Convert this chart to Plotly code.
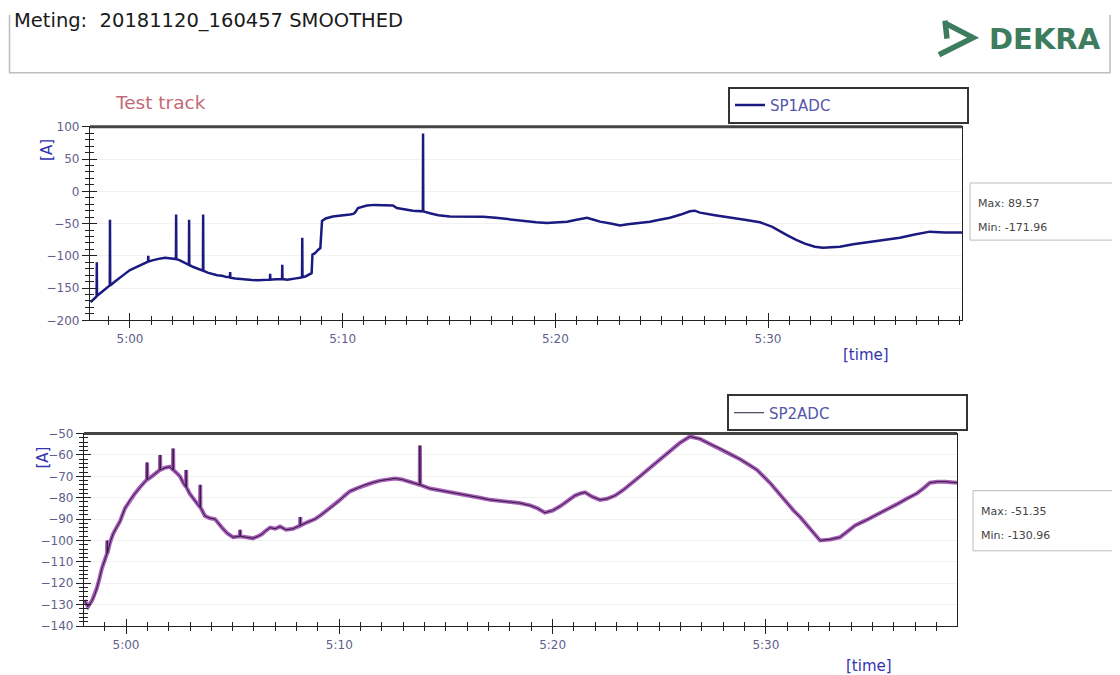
import plotly.graph_objects as go

# page body has an 8px default margin; vertical calibration measured from earlier renders
PAGE_W, OFFX = 1120, 8
W, H = PAGE_W - 2 * OFFX, 675
OFFY, SCY = 15.4, 0.977

# ---------------- data (minutes after 5:00) ----------------
top_time = [-1.85, -1.70, -1.57, -1.56, -1.55, -1.40, -1.18, -0.95, -0.94, -0.93, -0.75, -0.56,
            -0.40, -0.24, 0.00, 0.25, 0.47, 0.70, 0.85, 0.86, 0.87, 1.05, 1.25, 1.45, 1.65, 1.85,
            2.05, 2.16, 2.17, 2.18, 2.35, 2.50, 2.65, 2.77, 2.78, 2.79, 2.95, 3.10, 3.25, 3.43,
            3.44, 3.45, 3.65, 3.86, 4.10, 4.33, 4.55, 4.70, 4.71, 4.72, 4.95, 5.17, 5.45, 5.74,
            6.00, 6.20, 6.40, 6.58, 6.59, 6.60, 6.85, 7.15, 7.16, 7.17, 7.40, 7.60, 7.80, 7.99,
            8.09, 8.10, 8.11, 8.25, 8.40, 8.54, 8.58, 8.70, 8.84, 8.95, 9.03, 9.20, 9.54, 9.90,
            10.15, 10.34, 10.50, 10.58, 10.72, 10.90, 11.14, 11.50, 11.90, 12.36, 12.55, 12.90,
            13.30, 13.77, 13.78, 13.79, 14.10, 14.50, 15.04, 15.60, 16.10, 16.60, 17.20, 17.70,
            18.19, 18.70, 19.10, 19.60, 20.05, 20.55, 21.00, 21.49, 21.80, 22.10, 22.60, 23.04,
            23.40, 23.90, 24.45, 24.90, 25.39, 25.90, 26.33, 26.55, 26.80, 27.50, 28.20, 28.90,
            29.62, 30.20, 30.89, 31.30, 31.73, 32.20, 32.58, 33.00, 33.38, 34.00, 34.65, 35.40,
            36.20, 36.90, 37.61, 38.30, 39.15]
top_val = [-171.96, -167, -163, -110, -162, -158, -152, -146, -44, -146, -141, -136,
           -131, -128, -122, -118, -114, -111, -109, -100, -109, -107, -105, -104, -103, -103.5,
           -104, -105, -36, -105, -107, -110, -112, -114, -44, -114, -117, -119, -121, -123,
           -36, -123, -126, -128, -130, -131, -133, -133, -125, -134, -135, -136, -137, -137.5,
           -138, -138, -137.5, -137, -128, -137, -136.5, -136, -114, -136, -137, -136.5, -135, -134,
           -133, -72, -133, -132, -130, -127, -98, -96, -91, -88, -46, -42, -39, -38,
           -37, -36, -35, -33, -26, -24, -22, -21, -21.5, -22, -26, -28,
           -30, -31, 89.57, -31, -34, -37, -39, -39, -39.5, -39.5, -41, -43,
           -44, -46, -48, -49, -48, -47, -44, -41, -44, -47, -50, -53,
           -51, -49, -47, -44, -41, -36, -31, -30, -33, -37, -40, -44,
           -48, -55, -68, -75, -81, -86, -87.5, -87, -86, -82, -79, -75,
           -72, -67, -62.5, -64, -64]

bot_time = [-1.95, -1.78, -1.59, -1.45, -1.36, -1.25, -1.13, -0.89, -0.88, -0.87, -0.75, -0.61,
            -0.45, -0.28, -0.05, 0.19, 0.42, 0.66, 0.85, 0.98, 0.99, 1.00, 1.15, 1.27, 1.45,
            1.59, 1.60, 1.61, 1.83, 2.06, 2.20, 2.21, 2.22, 2.38, 2.53, 2.68, 2.81, 2.82, 2.83,
            2.98, 3.14, 3.30, 3.47, 3.48, 3.49, 3.70, 3.94, 4.17, 4.35, 4.50, 4.74, 5.02, 5.34,
            5.35, 5.36, 5.65, 5.95, 6.20, 6.38, 6.55, 6.75, 7.00, 7.22, 7.50, 7.83, 8.16, 8.17,
            8.18, 8.49, 8.86, 9.15, 9.42, 9.75, 10.03, 10.25, 10.50, 10.85, 11.20, 11.55, 11.91,
            12.25, 12.61, 12.95, 13.31, 13.77, 13.78, 13.79, 14.25, 14.70, 15.19, 15.65, 16.13,
            16.60, 17.07, 17.50, 18.00, 18.45, 18.94, 19.30, 19.64, 20.00, 20.35, 20.70, 21.05,
            21.30, 21.52, 21.85, 22.22, 22.55, 22.93, 23.30, 23.63, 24.10, 24.57, 25.05, 25.50,
            25.95, 26.44, 26.91, 27.40, 27.85, 28.30, 28.79, 29.20, 29.58, 30.19, 30.60, 30.99,
            31.30, 31.60, 31.90, 32.16, 32.54, 33.01, 33.47, 33.80, 34.18, 34.70, 35.21, 35.70,
            36.15, 36.60, 37.08, 37.40, 37.69, 38.05, 38.40, 38.96]
bot_val = [-128, -130.96, -128, -125, -122, -118, -113, -106, -100, -106, -101, -97,
           -94, -91, -85, -81, -78, -75, -73, -71.5, -63.5, -71.5, -70.5, -69.6, -68,
           -67, -60, -67, -66, -65.5, -67, -57, -67, -68.5, -70, -73, -75, -67, -75,
           -78, -80, -82, -84.5, -74, -84.5, -88.5, -89.6, -90, -92.5, -94, -96.6, -98.5, -98,
           -95, -98, -98.5, -99, -98, -97, -95.5, -94, -94.5, -93.5, -95, -94.5, -93, -89,
           -93, -91.5, -90, -88, -86, -83.5, -81, -79, -77, -75.5, -74, -73, -72,
           -71.5, -71, -71.5, -72.5, -74, -55.6, -74, -75.7, -76.5, -77.5, -78, -79,
           -80, -81, -81.5, -82, -82.5, -83.6, -85, -87, -86, -84, -81.5, -79,
           -78, -77.5, -79.5, -81, -80.5, -79, -76.5, -74, -70, -66, -62, -58,
           -54.5, -51.35, -52.5, -55, -57, -59.5, -62, -64.5, -67, -73, -78, -82.6,
           -86, -89, -92.5, -96, -100, -99.5, -98.5, -96, -93, -90.5, -88, -85.5,
           -83, -80.5, -78, -75.5, -73, -72.5, -72.5, -73]

x_tickvals = [0, 10, 20, 30]
x_ticktext = ["5:00", "5:10", "5:20", "5:30"]
series_names = ["SP1ADC", "SP2ADC"]
title_text = "Meting:  20181120_160457 SMOOTHED"


def px(x):
    return (x - OFFX) / W


def py(y):
    return 1 - max((y - OFFY) / SCY, 0.0) / H


FONT = "DejaVu Sans, Liberation Sans, Arial"
TICKCOL = "#222222"
LBLFONT = dict(family=FONT, size=12, color="#5f5f8c")

fig = go.Figure()
fig.add_trace(go.Scatter(x=top_time, y=top_val, mode="lines", name=series_names[0],
                         line=dict(color="#1a1a80", width=2.5), xaxis="x", yaxis="y",
                         legend="legend"))
fig.add_trace(go.Scatter(x=bot_time, y=bot_val, mode="lines", showlegend=False,
                         line=dict(color="#9a40b0", width=4), opacity=0.85,
                         xaxis="x2", yaxis="y2"))
fig.add_trace(go.Scatter(x=bot_time, y=bot_val, mode="lines", name=series_names[1],
                         line=dict(color="#2a1e35", width=1), xaxis="x2", yaxis="y2",
                         legend="legend2"))
# empty traces so overlay axes (inner half of crossing ticks) are drawn
fig.add_trace(go.Scatter(x=[], y=[], xaxis="x3", yaxis="y3", showlegend=False))
fig.add_trace(go.Scatter(x=[], y=[], xaxis="x4", yaxis="y4", showlegend=False))

top_xdom = [px(90), px(962)]
top_ydom = [py(320), py(127)]
bot_xdom = [px(84), px(957)]
bot_ydom = [py(625), py(433)]
top_xr = [-1.88, 39.12]
bot_xr = [-1.97, 38.96]
top_yr = [-200, 100]
bot_yr = [-140, -50]


def xaxis(dom, rng, anchor, inner=False, overlay=None):
    d = dict(domain=dom, range=rng, anchor=anchor, tickmode="array", tickvals=x_tickvals,
             ticktext=x_ticktext, ticklen=7, tickwidth=1.2, tickcolor=TICKCOL,
             minor=dict(tickmode="linear", tick0=0, dtick=1, ticklen=4, tickwidth=1,
                        tickcolor=TICKCOL, ticks="inside" if inner else "outside", showgrid=False),
             showgrid=False, zeroline=False, tickfont=LBLFONT, fixedrange=True)
    if inner:
        d.update(ticks="inside", showticklabels=False, showline=False, overlaying=overlay)
    else:
        d.update(ticks="outside", showline=True, linecolor=TICKCOL, linewidth=1.2, mirror=True)
    return d


def yaxis(dom, rng, anchor, dt, mdt, inner=False, overlay=None):
    d = dict(domain=dom, range=rng, anchor=anchor, tickmode="linear", tick0=0, dtick=dt,
             ticklen=7, tickwidth=1.2, tickcolor=TICKCOL,
             minor=dict(tickmode="linear", tick0=0, dtick=mdt, ticklen=4, tickwidth=1,
                        tickcolor=TICKCOL, ticks="inside" if inner else "outside", showgrid=False),
             zeroline=False, tickfont=LBLFONT, fixedrange=True)
    if inner:
        d.update(ticks="inside", showticklabels=False, showline=False, showgrid=False,
                 overlaying=overlay)
    else:
        d.update(ticks="outside", showline=True, linecolor=TICKCOL, linewidth=1.2, mirror=True,
                 showgrid=True, gridcolor="#f2f2f2", gridwidth=1)
    return d


LEGFONT = dict(family=FONT, size=15, color="#5555aa")
fig.update_layout(
    width=W, height=H, margin=dict(l=0, r=0, t=0, b=0),
    paper_bgcolor="white", plot_bgcolor="white",
    xaxis=xaxis(top_xdom, top_xr, "y"),
    yaxis=yaxis(top_ydom, top_yr, "x", 50, 10),
    xaxis2=xaxis(bot_xdom, bot_xr, "y2"),
    yaxis2=yaxis(bot_ydom, bot_yr, "x2", 10, 2),
    xaxis3=xaxis(top_xdom, top_xr, "y3", inner=True, overlay="x"),
    yaxis3=yaxis(top_ydom, top_yr, "x3", 50, 10, inner=True, overlay="y"),
    xaxis4=xaxis(bot_xdom, bot_xr, "y4", inner=True, overlay="x2"),
    yaxis4=yaxis(bot_ydom, bot_yr, "x4", 10, 2, inner=True, overlay="y2"),
    legend=dict(x=px(728), y=py(87), xanchor="left", yanchor="top", bgcolor="white",
                orientation="h", bordercolor="#333333", borderwidth=2, entrywidth=192,
                entrywidthmode="pixels", font=LEGFONT),
    legend2=dict(x=px(727), y=py(394), xanchor="left", yanchor="top", bgcolor="white",
                 orientation="h", bordercolor="#333333", borderwidth=2, entrywidth=192,
                 entrywidthmode="pixels", font=LEGFONT),
    showlegend=True,
)


def path(pts):
    return "M " + " L ".join(f"{px(a):.5f},{py(b):.5f}" for a, b in pts)


shapes = []
# header box (its top edge sits above the visible area)
shapes.append(dict(type="path", xref="paper", yref="paper",
                   path=path([(9.5, 0), (9.5, 73), (1110, 73), (1110, 0)]),
                   line=dict(color="#bdbdbd", width=1.5)))
# thick top frame borders
shapes.append(dict(type="line", xref="paper", yref="paper", x0=top_xdom[0], x1=top_xdom[1],
                   y0=top_ydom[1], y1=top_ydom[1], line=dict(color="#444444", width=3)))
shapes.append(dict(type="line", xref="paper", yref="paper", x0=bot_xdom[0], x1=bot_xdom[1],
                   y0=bot_ydom[1], y1=bot_ydom[1], line=dict(color="#444444", width=3)))
# max/min boxes
shapes.append(dict(type="rect", xref="paper", yref="paper", x0=px(970), x1=1.02,
                   y0=py(240), y1=py(183), line=dict(color="#bbbbbb", width=1)))
shapes.append(dict(type="rect", xref="paper", yref="paper", x0=px(973), x1=1.02,
                   y0=py(550), y1=py(490), line=dict(color="#bbbbbb", width=1)))

LOGO = "#3d7c5e"
shapes.append(dict(type="path", xref="paper", yref="paper",
                   path=path([(946, 24), (973, 38), (939, 55)]),
                   line=dict(color=LOGO, width=5.5)))
shapes.append(dict(type="path", xref="paper", yref="paper",
                   path=path([(945, 21), (947, 39)]), line=dict(color=LOGO, width=5.5)))
fig.update_layout(shapes=shapes)

BLUE = "#3434b0"
ann = []
ann.append(dict(text=title_text, x=px(12), y=py(21), xref="paper", yref="paper",
                xanchor="left", yanchor="middle", showarrow=False,
                font=dict(family=FONT, size=19.5, color="#1a1a1a")))
ann.append(dict(text="<b>DEKRA</b>", x=px(1045), y=py(39), xref="paper", yref="paper",
                xanchor="center", yanchor="middle", showarrow=False,
                font=dict(family=FONT, size=29, color=LOGO)))
ann.append(dict(text="Test track", x=px(113), y=py(103), xref="paper", yref="paper",
                xanchor="left", yanchor="middle", showarrow=False,
                font=dict(family=FONT, size=18.5, color="#c26a78")))
for yy, xx in [(150, 47), (457, 43)]:
    ann.append(dict(text="[A]", x=px(xx), y=py(yy), xref="paper", yref="paper",
                    xanchor="center", yanchor="middle", showarrow=False, textangle=-90,
                    font=dict(family=FONT, size=15, color=BLUE)))
for yy, xx in [(355, 866), (665, 869)]:
    ann.append(dict(text="[time]", x=px(xx), y=py(yy), xref="paper", yref="paper",
                    xanchor="center", yanchor="middle", showarrow=False,
                    font=dict(family=FONT, size=15, color=BLUE)))
stats = [(top_val, 976, 203, 227), (bot_val, 979, 511, 535)]
for vals, xx, ymax, ymin in stats:
    ann.append(dict(text=f"Max: {max(vals):.2f}", x=px(xx), y=py(ymax), xref="paper",
                    yref="paper", xanchor="left", yanchor="middle", showarrow=False,
                    font=dict(family=FONT, size=11, color="#444444")))
    ann.append(dict(text=f"Min: {min(vals):.2f}", x=px(xx), y=py(ymin), xref="paper",
                    yref="paper", xanchor="left", yanchor="middle", showarrow=False,
                    font=dict(family=FONT, size=11, color="#444444")))
fig.update_layout(annotations=ann)

fig.write_html("out.html")
